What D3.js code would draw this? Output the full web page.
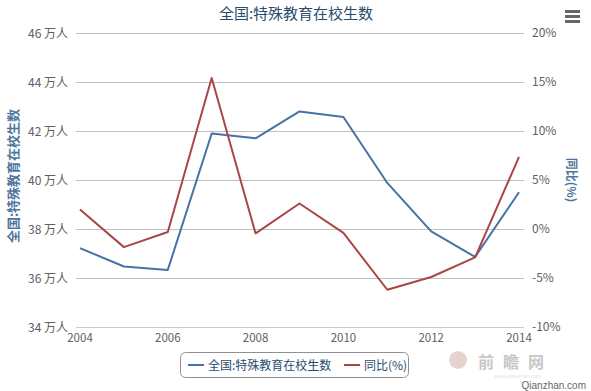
<!DOCTYPE html>
<html><head><meta charset="utf-8">
<script src="https://cdn.jsdelivr.net/npm/d3@7"></script>
<style>
body{margin:0;background:#fff;}
svg{font-family:"Noto Sans CJK SC","Noto Sans",sans-serif;}
</style></head>
<body><svg id="c" width="591" height="391"></svg>
<script>
const years = [2004,2005,2006,2007,2008,2009,2010,2011,2012,2013,2014];
const students = [37.22,36.47,36.33,41.9,41.7,42.8,42.57,39.88,37.9,36.86,39.5];
const yoy = [2.0,-1.85,-0.3,15.4,-0.45,2.6,-0.4,-6.2,-4.9,-2.9,7.35];
const leftTicks = [34,36,38,40,42,44,46];
const rightTicks = [-10,-5,0,5,10,15,20];
const xTicks = [2004,2006,2008,2010,2012,2014];
const title = "全国:特殊教育在校生数";
const seriesNames = ["全国:特殊教育在校生数","同比(%)"];
const colors = ["#4572A7","#AA4643"];

const svg = d3.select("#c");
const L=80, R=519, T=33, B=327;
const x = d3.scaleLinear().domain([2004,2014]).range([L,R]);
const yL = d3.scaleLinear().domain([34,46]).range([B,T]);
const yR = d3.scaleLinear().domain([-10,20]).range([B,T]);

// gridlines
svg.append("g").selectAll("line").data(leftTicks).join("line")
  .attr("x1",76).attr("x2",524).attr("y1",d=>yL(d)+0.5).attr("y2",d=>yL(d)+0.5)
  .attr("stroke",d=>d===34?"#C0D0E0":"#C0C0C0").attr("stroke-width",1);

// left axis labels
svg.append("g").selectAll("text").data(leftTicks).join("text")
  .attr("x",68).attr("y",d=>yL(d)+5).attr("text-anchor","end")
  .attr("font-size",12).attr("fill","#606060").text(d=>d+" 万人");
// right axis labels
svg.append("g").selectAll("text").data(rightTicks).join("text")
  .attr("x",532).attr("y",d=>yR(d)+4).attr("text-anchor","start")
  .attr("font-size",12).attr("fill","#606060").text(d=>d+"%");
// x labels
svg.append("g").selectAll("text").data(xTicks).join("text")
  .attr("x",d=>x(d)).attr("y",342).attr("text-anchor","middle")
  .attr("font-size",11.5).attr("fill","#606060").text(d=>d);

// title
svg.append("text").attr("x",296).attr("y",19).attr("text-anchor","middle")
  .attr("font-size",15).attr("fill","#274b6d").text(title);

// axis titles
svg.append("text").attr("transform","translate(18,176) rotate(-90)")
  .attr("text-anchor","middle").attr("font-size",13).attr("font-weight","bold")
  .attr("fill","#4d759e").text(seriesNames[0]);
svg.append("text").attr("transform","translate(567,180) rotate(90)")
  .attr("text-anchor","middle").attr("font-size",12).attr("font-weight","bold")
  .attr("fill","#4d759e").text(seriesNames[1]);

// lines
const line1 = d3.line().x((d,i)=>x(years[i])).y(d=>yL(d));
const line2 = d3.line().x((d,i)=>x(years[i])).y(d=>yR(d));
svg.append("path").attr("d",line1(students)).attr("fill","none").attr("stroke",colors[0]).attr("stroke-width",2).attr("stroke-linejoin","round");
svg.append("path").attr("d",line2(yoy)).attr("fill","none").attr("stroke",colors[1]).attr("stroke-width",2).attr("stroke-linejoin","round");

// legend
const lg = svg.append("g");
lg.append("rect").attr("x",180.5).attr("y",352.5).attr("width",228).attr("height",25).attr("rx",5)
  .attr("fill","#fff").attr("stroke","#909090");
const items=[{x:188,name:seriesNames[0],c:colors[0]},{x:344,name:seriesNames[1],c:colors[1]}];
items.forEach(it=>{
  lg.append("line").attr("x1",it.x).attr("x2",it.x+16).attr("y1",365).attr("y2",365).attr("stroke",it.c).attr("stroke-width",2);
  lg.append("text").attr("x",it.x+20).attr("y",370).attr("font-size",12).attr("fill","#274b6d").text(it.name);
});

// menu icon
[11,16,21].forEach(yy=>svg.append("rect").attr("x",565).attr("y",yy-1).attr("width",15).attr("height",3).attr("fill","#666"));

// watermark
svg.append("circle").attr("cx",458).attr("cy",360).attr("r",9).attr("fill","#e0c8c0").attr("opacity",0.8);
svg.append("text").attr("x",478).attr("y",368).attr("font-size",16).attr("font-weight","bold").attr("fill","#c8c8c8").attr("letter-spacing",9).text("前瞻网");
svg.append("text").attr("x",494).attr("y",378).attr("font-family","Liberation Sans").attr("font-size",5.5).attr("fill","#e4e4e4").text("www.qianzhan.com");
svg.append("text").attr("x",586).attr("y",388.8).attr("text-anchor","end").attr("font-family","Liberation Sans").attr("font-size",10).attr("fill","#666").text("Qianzhan.com");
</script></body></html>
